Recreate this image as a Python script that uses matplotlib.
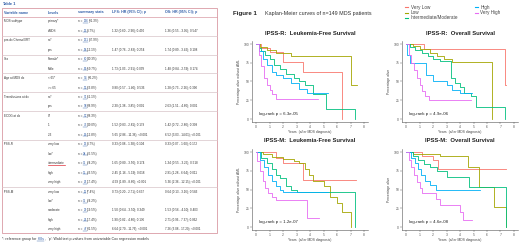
import matplotlib

matplotlib.use("Agg")
import matplotlib.pyplot as plt
from matplotlib.lines import Line2D
from matplotlib.patches import Rectangle

plt.rcParams["font.family"] = ["Liberation Sans", "DejaVu Sans"]

W, H = 520, 245

# ---- table data ----
table_headers = ["Variable name", "Levels", "summary stats", "LFS: HR (95% CI); p", "OS: HR (95% CI); p"]
table_vars = ["MDS subtype", "pre-dx Chemo/XRT", "Sex", "Age at MDS dx",
              "Transfusions at dx", "ECOG at dx", "IPSS-R", "IPSS-M"]
table_levels = [
    ["primary*", "t-MDS"],
    ["no*", "yes"],
    ["Female*", "Male"],
    ["< 65*", ">= 65"],
    ["no*", "yes"],
    ["0*", "1", "2-3"],
    ["very low", "low*", "intermediate", "high", "very high"],
    ["very low", "low*", "moderate", "high", "very high"],
]
table_n = [[136, 13], [131, 18], [60, 89], [54, 95], [91, 58], [57, 73, 19],
           [13, 38, 36, 35, 26], [11, 36, 29, 26, 47]]
table_pct = [["91.3", "8.7"], ["87.9", "12.1"], ["40.3", "59.7"], ["36.2", "63.8"],
             ["61.1", "38.9"], ["38.3", "49.0", "12.8"],
             ["8.7", "25.5", "24.2", "23.5", "17.4"], ["7.4", "24.2", "19.5", "17.4", "31.5"]]
table_lfs = [
    ["", "1.32 (0.60 - 2.90); 0.490"],
    ["", "1.47 (0.76 - 2.83); 0.254"],
    ["", "1.73 (1.03 - 2.91); 0.039"],
    ["", "0.80 (0.57 - 1.40); 0.536"],
    ["", "2.30 (1.38 - 3.85); 0.001"],
    ["", "1.52 (0.83 - 2.81); 0.179", "5.65 (2.86 - 11.36); <0.001"],
    ["0.33 (0.08 - 1.38); 0.104", "", "1.65 (0.80 - 3.50); 0.174",
     "2.45 (1.16 - 5.19); 0.018", "4.59 (1.89 - 8.60); <0.001"],
    ["0.73 (0.20 - 2.71); 0.637", "", "1.50 (0.64 - 3.50); 0.349",
     "1.90 (0.82 - 4.80); 0.136", "6.64 (2.70 - 11.76); <0.001"],
]
table_os = [
    ["", "1.36 (0.55 - 3.05); 0.547"],
    ["", "1.74 (0.89 - 3.42); 0.108"],
    ["", "1.48 (0.84 - 2.59); 0.174"],
    ["", "1.28 (0.73 - 2.26); 0.390"],
    ["", "2.63 (1.51 - 4.60); 0.001"],
    ["", "1.42 (0.72 - 2.80); 0.309", "6.52 (3.03 - 14.01); <0.001"],
    ["0.33 (0.07 - 1.60); 0.172", "", "1.34 (0.55 - 3.25); 0.518",
     "2.91 (1.28 - 6.64); 0.011", "5.36 (2.36 - 12.15); <0.001"],
    ["0.64 (0.13 - 3.16); 0.583", "", "1.53 (0.56 - 4.10); 0.403",
     "2.71 (0.96 - 7.37); 0.062", "7.26 (3.08 - 17.20); <0.001"],
]

# ---- Kaplan-Meier data (years, % surviving) ----
groups = ["Very Low", "Low", "Intermediate/Moderate", "High", "Very High"]
group_colors = ["#F8766D", "#A3A500", "#00BF7D", "#00B0F6", "#E76BF3"]

lfs_r_t = [[0, 0.4, 1.0, 2.0, 3.5, 6.4],
           [0, 0.3, 0.8, 1.5, 2.6, 7.0, 7.5],
           [0, 0.2, 0.4, 0.7, 1.0, 1.3, 1.8, 2.2, 2.8, 3.2, 3.6, 4.2, 5.2, 7.3],
           [0, 0.2, 0.5, 0.8, 1.2, 1.5, 2.0, 2.6, 3.2, 3.8, 5.3],
           [0, 0.2, 0.4, 0.6, 0.8, 1.0, 1.2, 1.5, 4.6]]
lfs_r_s = [[100, 95, 89, 76, 62, 0],
           [100, 96, 92, 88, 84, 45, 45],
           [100, 95, 90, 85, 80, 72, 67, 60, 55, 50, 45, 33, 13, 0],
           [100, 90, 80, 72, 62, 58, 55, 48, 40, 35, 35],
           [100, 85, 70, 55, 45, 38, 33, 26, 26]]

os_r_t = [[0, 1.3, 7.3, 7.4],
          [0, 0.5, 1.0, 1.8, 2.3, 2.8, 3.4, 6.4],
          [0, 0.3, 0.7, 1.2, 1.6, 2.0, 2.5, 3.3, 3.6, 4.0, 4.3, 4.8, 5.2, 7.3],
          [0, 0.1, 0.3, 1.5, 2.0, 3.0, 3.4, 4.0, 4.9],
          [0, 0.2, 0.4, 0.6, 0.8, 1.0, 1.2, 1.4, 1.7, 4.8]]
os_r_s = [[100, 93, 45, 45],
          [100, 97, 93, 88, 84, 80, 76, 0],
          [100, 96, 92, 88, 84, 80, 77, 55, 48, 42, 35, 30, 16, 0],
          [100, 85, 75, 59, 50, 45, 38, 35, 35],
          [100, 85, 75, 65, 55, 45, 37, 31, 25, 25]]

lfs_m_t = [[0, 1.5, 2.0, 3.5, 7.4],
           [0, 0.5, 1.2, 2.0, 2.8, 3.2, 3.6, 3.9, 4.2, 5.0, 5.5, 6.0, 6.4, 7.0],
           [0, 0.4, 0.8, 1.2, 1.5, 1.8, 2.2, 2.6, 3.0, 7.3],
           [0, 0.3, 0.6, 0.9, 1.2, 1.5, 1.8, 2.0, 5.3],
           [0, 0.1, 0.3, 0.5, 0.7, 0.9, 1.2, 1.5, 3.8, 4.7]]
lfs_m_s = [[100, 92, 85, 63, 63],
           [100, 97, 94, 91, 88, 85, 78, 70, 62, 55, 40, 32, 20, 0],
           [100, 92, 85, 78, 70, 65, 55, 50, 47, 0],
           [100, 90, 80, 70, 62, 55, 50, 47, 47],
           [100, 88, 75, 62, 52, 45, 40, 36, 12, 12]]

os_m_t = [[0, 1.2, 2.0, 2.4, 7.4],
          [0, 0.5, 2.5, 4.6, 5.4, 6.5, 7.4],
          [0, 0.5, 0.9, 1.3, 1.8, 2.3, 3.0, 4.7, 7.4],
          [0, 0.4, 0.7, 0.9, 1.1, 1.4, 1.8, 2.2, 5.5],
          [0, 0.2, 0.4, 0.6, 0.8, 1.0, 1.2, 2.2, 2.5, 4.0, 4.2, 4.9]]
os_m_s = [[100, 95, 89, 78, 78],
          [100, 97, 95, 80, 54, 27, 0],
          [100, 95, 90, 84, 80, 75, 67, 54, 0],
          [100, 92, 85, 78, 70, 62, 56, 50, 50],
          [100, 90, 80, 70, 60, 52, 46, 38, 30, 20, 10, 10]]

panel_titles = ["IPSS-R:  Leukemia-Free Survival", "IPSS-R:  Overall Survival",
                "IPSS-M:  Leukemia-Free Survival", "IPSS-M:  Overall Survival"]
panel_ylabels = ["Percentage alive without AML", "Percentage alive",
                 "Percentage alive without AML", "Percentage alive"]
panel_pvals = ["log-rank p = 6.3e-05", "log-rank p = 4.9e-06",
               "log-rank p = 1.2e-07", "log-rank p = 4.6e-08"]

BLUE = "#2F5DA8"
BORDER = "#D99AA4"
TEXT = "#333333"


def fx(x):
    return x / W


def fy(y):
    return 1 - y / H


fig = plt.figure(figsize=(W / 100, H / 100), dpi=100)
fig.patch.set_facecolor("white")
renderer = fig.canvas.get_renderer()


def hline(x0, x1, y, color, lw=0.5):
    fig.add_artist(Line2D([fx(x0), fx(x1)], [fy(y), fy(y)], transform=fig.transFigure,
                          color=color, lw=lw))


def chain(x, y, parts, size):
    # draw text pieces one after another, optionally underlined
    for text, color, underline, gap in parts:
        t = fig.text(fx(x), fy(y), text, color=color, fontsize=size, va="baseline")
        bb = t.get_window_extent(renderer)
        if underline:
            hline(bb.x0, bb.x1, y + 0.6, color, lw=0.3)
        x = bb.x1 + gap


# ---- table ----
fig.text(fx(2), fy(4), "Table 1", color=BLUE, fontsize=2.9, fontweight="bold", va="center")
fig.add_artist(Rectangle((fx(2), fy(233)), fx(217) - fx(2), fy(8) - fy(233),
                         transform=fig.transFigure, fill=False, edgecolor=BORDER, lw=0.6))
col_x = [4, 48, 78, 112, 165]
for cx, head in zip(col_x, table_headers):
    fig.text(fx(cx), fy(12.5), head, color=BLUE, fontsize=2.6, fontweight="bold", va="center")
hline(2, 217, 17, BORDER, lw=0.5)

row_y0, row_step = 21.5, 9.45
row = 0
for gi, var in enumerate(table_vars):
    if gi > 0:
        hline(2, 217, row_y0 + (row - 0.5) * row_step, "#D8C4C8", lw=0.5)
    for li, level in enumerate(table_levels[gi]):
        y = row_y0 + row * row_step
        base = y + 0.9
        if li == 0:
            fig.text(fx(col_x[0]), fy(base), var, color=TEXT, fontsize=2.2, va="baseline")
        t = fig.text(fx(col_x[1]), fy(base), level, color=TEXT, fontsize=2.2, va="baseline")
        if level == "intermediate":
            bb = t.get_window_extent(renderer)
            hline(bb.x0, bb.x1, base + 0.9, "#E0303A", lw=0.5)
        chain(col_x[2], base, [("n =", TEXT, False, 1.0),
                               (str(table_n[gi][li]), BLUE, True, 0.6),
                               ("(" + table_pct[gi][li] + "%)", TEXT, False, 0)], 2.2)
        if table_lfs[gi][li]:
            fig.text(fx(col_x[3]), fy(base), table_lfs[gi][li], color=TEXT, fontsize=2.2,
                     va="baseline")
        if table_os[gi][li]:
            fig.text(fx(col_x[4]), fy(base), table_os[gi][li], color=TEXT, fontsize=2.2,
                     va="baseline")
        row += 1

chain(2, 240, [("*: reference group for", TEXT, False, 1.0),
               ("HRs", BLUE, True, 0.3),
               (",  'p': Wald test p-values from univariable Cox regression models", TEXT, False, 0)],
      2.6)

# ---- figure heading and legend ----
fig.text(fx(233), fy(13), "Figure 1", fontsize=4.4, fontweight="bold", color="#222222", va="center")
fig.text(fx(265), fy(13), "Kaplan-Meier curves of n=149 MDS patients", fontsize=3.9,
         color="#333333", va="center")
handles = [Line2D([], [], color=c, lw=0.8) for c in group_colors]
fig.legend(handles, groups, loc="upper left", bbox_to_anchor=(fx(405), fy(5)), ncol=2,
           fontsize=3.3, frameon=False, handlelength=0.7, handletextpad=0.6,
           labelspacing=0.05, columnspacing=3.5, borderaxespad=0, borderpad=0,
           labelcolor="#444444")

# ---- KM panels ----
panel_t = [lfs_r_t, os_r_t, lfs_m_t, os_m_t]
panel_s = [lfs_r_s, os_r_s, lfs_m_s, os_m_s]
panel_origin = [(256, 119), (406, 119), (256, 227), (406, 227)]  # pixel of (0 yr, 0 %)
title_y = [33, 33, 141, 141]
px_year, px_pct = 13.5, 0.75
xlo, xhi, ylo, yhi = -0.3, 8.3, -4, 104

for k in range(4):
    ox, oy = panel_origin[k]
    left = ox + xlo * px_year
    bottom = oy - ylo * px_pct
    width = (xhi - xlo) * px_year
    height = (yhi - ylo) * px_pct
    ax = fig.add_axes([fx(left), fy(bottom), width / W, height / H])
    for g in range(5):
        ax.step(panel_t[k][g], panel_s[k][g], where="post", color=group_colors[g], lw=0.6)
    ax.set_xlim(xlo, xhi)
    ax.set_ylim(ylo, yhi)
    ax.set_xticks(range(9))
    ax.set_yticks([0, 25, 50, 75, 100])
    for side in ("top", "right"):
        ax.spines[side].set_visible(False)
    for side in ("left", "bottom"):
        ax.spines[side].set_linewidth(0.4)
        ax.spines[side].set_color("#555555")
    ax.tick_params(labelsize=2.4, length=1.2, width=0.3, pad=0.8, colors="#555555")
    ax.set_xlabel("Years  (after MDS diagnosis)", fontsize=2.4, labelpad=0.8, color="#444444")
    ax.set_ylabel(panel_ylabels[k], fontsize=2.4, labelpad=1.5, color="#444444")
    ax.text(0.2, 7, panel_pvals[k], fontsize=3.2, color="#222222", va="center")
    fig.text(fx(ox + 4 * px_year), fy(title_y[k]), panel_titles[k], fontsize=4.2,
             fontweight="bold", ha="center", va="center", color="#222222")

fig.savefig("out.png", dpi=100)
